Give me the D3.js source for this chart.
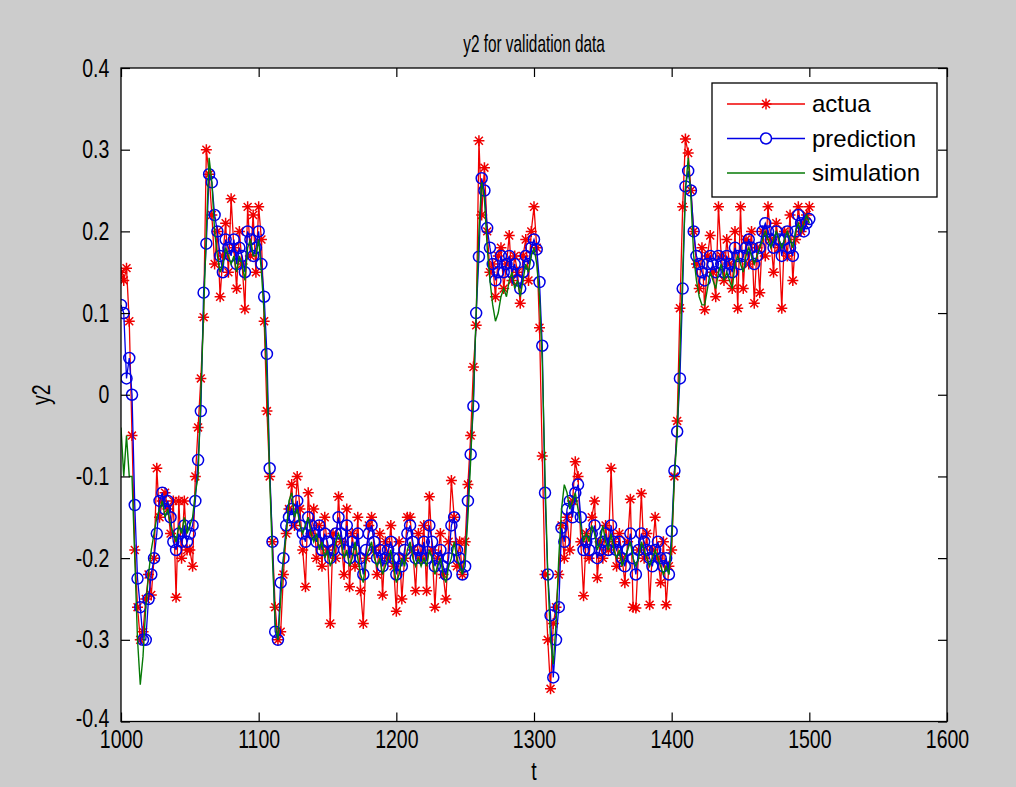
<!DOCTYPE html>
<html>
<head>
<meta charset="utf-8">
<script src="https://cdn.jsdelivr.net/npm/d3@7"></script>
<style>
  html, body { margin: 0; padding: 0; background: #cccccc; }
  svg { display: block; }
</style>
</head>
<body>
<svg id="fig" width="1016" height="787"></svg>
<script>
// sampling grid of the series: t = tStart + i * tStep
const tStart = 1000;
const tStep = 2;

// red, "*" markers
const actual = [
  0.15, 0.14, 0.155, 0.09, -0.05, -0.19, -0.26, -0.3, -0.29, -0.25,
  -0.22, -0.245, -0.2, -0.09, -0.15, -0.13, -0.12, -0.14, -0.17, -0.13,
  -0.248, -0.13, -0.2, -0.13, -0.19, -0.19, -0.21, -0.1, -0.04, 0.02,
  0.095, 0.3, 0.27, 0.22, 0.16, 0.2, 0.12, 0.17, 0.21, 0.15,
  0.24, 0.18, 0.13, 0.2, 0.16, 0.105, 0.23, 0.17, 0.22, 0.15,
  0.23, 0.19, 0.09, -0.02, -0.1, -0.18, -0.26, -0.3, -0.29, -0.22,
  -0.17, -0.14, -0.11, -0.16, -0.1, -0.14, -0.19, -0.235, -0.12, -0.17,
  -0.14, -0.2, -0.16, -0.21, -0.15, -0.19, -0.28, -0.17, -0.2, -0.125,
  -0.18, -0.22, -0.14, -0.235, -0.17, -0.21, -0.15, -0.24, -0.28, -0.2,
  -0.16, -0.15, -0.19, -0.22, -0.17, -0.245, -0.18, -0.2, -0.16, -0.21,
  -0.265, -0.18, -0.25, -0.2, -0.15, -0.15, -0.19, -0.24, -0.17, -0.2,
  -0.16, -0.24, -0.125, -0.19, -0.26, -0.2, -0.17, -0.22, -0.25, -0.18,
  -0.105, -0.15, -0.21, -0.18, -0.22, -0.18, -0.11, -0.05, 0.034, 0.085,
  0.311, 0.22, 0.278, 0.2, 0.15, 0.16, 0.12, 0.17, 0.18, 0.13,
  0.16, 0.195, 0.14, 0.17, 0.15, 0.112, 0.17, 0.19, 0.14, 0.2,
  0.23, 0.18, 0.082, -0.075, -0.22, -0.3, -0.36, -0.28, -0.26, -0.22,
  -0.16, -0.2, -0.15, -0.19, -0.13, -0.082, -0.1, -0.18, -0.246, -0.17,
  -0.2, -0.15, -0.13, -0.224, -0.18, -0.2, -0.16, -0.19, -0.09, -0.18,
  -0.21, -0.17, -0.2, -0.23, -0.18, -0.128, -0.26, -0.261, -0.19, -0.121,
  -0.2, -0.17, -0.257, -0.19, -0.15, -0.2, -0.23, -0.18, -0.257, -0.21,
  -0.19, -0.1, -0.032, 0.106, 0.23, 0.313, 0.296, 0.25, 0.2, 0.16,
  0.13, 0.18, 0.104, 0.17, 0.195, 0.15, 0.12, 0.23, 0.17, 0.14,
  0.19, 0.16, 0.13, 0.2, 0.106, 0.23, 0.13, 0.19, 0.16, 0.2,
  0.112, 0.18, 0.125, 0.2, 0.17, 0.23, 0.19, 0.15, 0.21, 0.18,
  0.106, 0.2, 0.17, 0.22, 0.14, 0.19, 0.23, 0.2, 0.21, 0.22,
  0.23
];

// blue, "o" markers
const prediction = [
  0.11, 0.1, 0.02, 0.045, 0.0, -0.135, -0.225, -0.26, -0.3, -0.3,
  -0.25, -0.22, -0.2, -0.17, -0.13, -0.12, -0.14, -0.13, -0.15, -0.18,
  -0.19, -0.17, -0.18, -0.16, -0.18, -0.17, -0.16, -0.13, -0.08, -0.02,
  0.125, 0.185, 0.27, 0.26, 0.22, 0.2, 0.17, 0.15, 0.19, 0.18,
  0.17, 0.19, 0.16, 0.18, 0.17, 0.15, 0.2, 0.19, 0.17, 0.18,
  0.2, 0.16, 0.12, 0.05, -0.09, -0.18, -0.29, -0.3, -0.23, -0.2,
  -0.16, -0.15, -0.14, -0.15, -0.13, -0.16, -0.17, -0.18, -0.15, -0.16,
  -0.17, -0.18, -0.16, -0.19, -0.17, -0.18, -0.2, -0.19, -0.17, -0.15,
  -0.17, -0.19, -0.16, -0.2, -0.18, -0.19, -0.17, -0.2, -0.22, -0.19,
  -0.17, -0.16, -0.18, -0.2, -0.19, -0.21, -0.2, -0.19, -0.18, -0.2,
  -0.22, -0.2, -0.21, -0.19, -0.17, -0.16, -0.18, -0.2, -0.19, -0.2,
  -0.18, -0.2, -0.16, -0.18, -0.21, -0.2, -0.19, -0.21, -0.22, -0.2,
  -0.16, -0.15, -0.19, -0.2, -0.22, -0.21, -0.13, -0.073, -0.014, 0.1,
  0.169, 0.265, 0.25, 0.204, 0.18, 0.16, 0.14, 0.15, 0.17, 0.15,
  0.16, 0.17, 0.15, 0.16, 0.14, 0.13, 0.15, 0.17, 0.16, 0.18,
  0.19, 0.178, 0.138, 0.06, -0.12, -0.22, -0.27, -0.346, -0.3, -0.26,
  -0.163, -0.18, -0.14, -0.13, -0.15, -0.12, -0.11, -0.15, -0.19, -0.18,
  -0.19, -0.17, -0.16, -0.2, -0.19, -0.18, -0.17, -0.19, -0.16, -0.18,
  -0.19, -0.18, -0.2, -0.21, -0.19, -0.17, -0.2, -0.22, -0.19, -0.17,
  -0.18, -0.19, -0.2, -0.21, -0.19, -0.18, -0.2, -0.21, -0.2, -0.22,
  -0.167, -0.093, -0.045, 0.02, 0.13, 0.255, 0.274, 0.25, 0.2, 0.17,
  0.16, 0.15, 0.14, 0.16, 0.17, 0.16, 0.15, 0.17, 0.16, 0.15,
  0.17, 0.16, 0.15, 0.18, 0.17, 0.16, 0.17, 0.18, 0.19, 0.18,
  0.16, 0.17, 0.18, 0.2, 0.21, 0.2, 0.19, 0.18, 0.2, 0.19,
  0.17, 0.19, 0.2, 0.18, 0.17, 0.2, 0.22, 0.21, 0.2, 0.21,
  0.215
];

// green, line only
const simulation = [
  -0.04, -0.1, -0.05, -0.1, -0.1, -0.2, -0.3, -0.355, -0.32, -0.26,
  -0.22, -0.19, -0.17, -0.15, -0.14, -0.13, -0.15, -0.14, -0.16, -0.17,
  -0.18, -0.16, -0.17, -0.15, -0.17, -0.16, -0.15, -0.12, -0.1, 0.0,
  0.1, 0.2, 0.29, 0.26, 0.2, 0.17, 0.15, 0.16, 0.18, 0.17,
  0.16, 0.17, 0.15, 0.17, 0.16, 0.14, 0.18, 0.19, 0.17, 0.17,
  0.19, 0.15, 0.1, 0.02, -0.1, -0.2, -0.28, -0.3, -0.25, -0.2,
  -0.17, -0.13, -0.12, -0.15, -0.14, -0.16, -0.17, -0.16, -0.15, -0.17,
  -0.18, -0.17, -0.19, -0.18, -0.2, -0.19, -0.21, -0.2, -0.18, -0.17,
  -0.18, -0.2, -0.19, -0.21, -0.2, -0.18, -0.2, -0.22, -0.23, -0.2,
  -0.19, -0.18, -0.2, -0.21, -0.2, -0.22, -0.21, -0.2, -0.19, -0.21,
  -0.23, -0.22, -0.2, -0.21, -0.19, -0.18, -0.2, -0.21, -0.2, -0.21,
  -0.2, -0.21, -0.19, -0.2, -0.22, -0.21, -0.2, -0.22, -0.23, -0.21,
  -0.2, -0.18, -0.2, -0.21, -0.22, -0.2, -0.15, -0.08, 0.0, 0.1,
  0.2, 0.26, 0.24, 0.18, 0.14, 0.11, 0.09, 0.1, 0.12, 0.13,
  0.12, 0.14, 0.15, 0.13, 0.14, 0.12, 0.14, 0.16, 0.15, 0.17,
  0.18, 0.16, 0.12, 0.04, -0.1, -0.22, -0.3, -0.33, -0.28, -0.2,
  -0.14, -0.11, -0.12, -0.14, -0.13, -0.12, -0.14, -0.16, -0.18, -0.17,
  -0.18, -0.16, -0.17, -0.19, -0.18, -0.16, -0.18, -0.19, -0.17, -0.19,
  -0.2, -0.19, -0.21, -0.2, -0.19, -0.18, -0.2, -0.21, -0.2, -0.18,
  -0.19, -0.2, -0.21, -0.2, -0.19, -0.2, -0.21, -0.22, -0.21, -0.22,
  -0.18, -0.1, -0.05, 0.05, 0.15, 0.25, 0.29, 0.24, 0.17, 0.14,
  0.12, 0.11, 0.11, 0.13, 0.15, 0.14, 0.13, 0.15, 0.16, 0.14,
  0.15, 0.14, 0.13, 0.16, 0.17, 0.16, 0.15, 0.17, 0.18, 0.17,
  0.16, 0.17, 0.18, 0.19, 0.2, 0.19, 0.18, 0.19, 0.2, 0.19,
  0.18, 0.19, 0.2, 0.19, 0.18, 0.2, 0.21, 0.2, 0.21, 0.22,
  0.21
];

const xTicks = [1000, 1100, 1200, 1300, 1400, 1500, 1600];
const yTicks = [-0.4, -0.3, -0.2, -0.1, 0, 0.1, 0.2, 0.3, 0.4];
const legendNames = ['actua', 'prediction', 'simulation'];

const RED = '#f00000', BLUE = '#0000e6', GREEN = '#067a06';
const fontFam = '"Liberation Sans", Arial, sans-serif';
const squeeze = 0.78;   // the figure text looks horizontally condensed

const box = {left: 121, right: 947, top: 68, bottom: 721.5};

const svg = d3.select('#fig');

const xScale = d3.scaleLinear().domain([1000, 1600]).range([box.left, box.right]);
const yScale = d3.scaleLinear().domain([-0.4, 0.4]).range([box.bottom, box.top]);

const toPoints = arr => arr.map((v, i) => ({t: tStart + i * tStep, v: v}));

// plot area
svg.append('rect')
    .attr('x', box.left).attr('y', box.top)
    .attr('width', box.right - box.left).attr('height', box.bottom - box.top)
    .attr('fill', 'white');

svg.append('defs').append('clipPath').attr('id', 'clip')
    .append('rect')
    .attr('x', box.left).attr('y', box.top)
    .attr('width', box.right - box.left).attr('height', box.bottom - box.top);

const plot = svg.append('g').attr('clip-path', 'url(#clip)');

const line = d3.line()
    .x(d => xScale(d.t))
    .y(d => yScale(d.v));

// asterisk marker like matlab '*'
function starPath(r) {
    const k = r * 0.72;
    return `M${-r},0H${r}M0,${-r}V${r}M${-k},${-k}L${k},${k}M${-k},${k}L${k},${-k}`;
}

// actual
plot.append('path')
    .datum(toPoints(actual))
    .attr('d', line)
    .attr('fill', 'none')
    .attr('stroke', RED)
    .attr('stroke-width', 1.3);

plot.selectAll('.star')
    .data(toPoints(actual))
    .join('path')
    .attr('class', 'star')
    .attr('transform', d => `translate(${xScale(d.t)},${yScale(d.v)})`)
    .attr('d', starPath(5.5))
    .attr('fill', 'none')
    .attr('stroke', RED)
    .attr('stroke-width', 1.5);

// prediction
plot.append('path')
    .datum(toPoints(prediction))
    .attr('d', line)
    .attr('fill', 'none')
    .attr('stroke', BLUE)
    .attr('stroke-width', 1.3);

plot.selectAll('.circ')
    .data(toPoints(prediction))
    .join('circle')
    .attr('class', 'circ')
    .attr('cx', d => xScale(d.t))
    .attr('cy', d => yScale(d.v))
    .attr('r', 5.5)
    .attr('fill', 'none')
    .attr('stroke', BLUE)
    .attr('stroke-width', 1.5);

// simulation
plot.append('path')
    .datum(toPoints(simulation))
    .attr('d', line)
    .attr('fill', 'none')
    .attr('stroke', GREEN)
    .attr('stroke-width', 1.4);

// axes, ticks inside on all four sides
const tickLen = 9;

svg.append('g')
    .attr('class', 'xaxis')
    .attr('transform', `translate(0,${box.bottom})`)
    .call(d3.axisBottom(xScale).tickValues(xTicks).tickSize(-tickLen).tickSizeOuter(0).tickPadding(9).tickFormat(d3.format('d')));
svg.append('g')
    .attr('transform', `translate(0,${box.top})`)
    .call(d3.axisTop(xScale).tickValues(xTicks).tickSize(-tickLen).tickSizeOuter(0).tickFormat(''));
svg.append('g')
    .attr('class', 'yaxis')
    .attr('transform', `translate(${box.left},0)`)
    .call(d3.axisLeft(yScale).tickValues(yTicks).tickSize(-tickLen).tickSizeOuter(0)
        .tickFormat(d => d === 0 ? '0' : String(d)));
svg.append('g')
    .attr('transform', `translate(${box.right},0)`)
    .call(d3.axisRight(yScale).tickValues(yTicks).tickSize(-tickLen).tickSizeOuter(0).tickFormat(''));

svg.selectAll('.domain').remove();
svg.selectAll('.tick line').attr('stroke', '#000').attr('stroke-width', 1.2);
svg.selectAll('.tick text')
    .attr('fill', '#000')
    .style('font-family', fontFam)
    .style('font-size', '25px');
svg.selectAll('.xaxis .tick text')
    .attr('transform', `scale(${squeeze},1)`);
svg.selectAll('.yaxis .tick text')
    .attr('x', -15)
    .attr('transform', d => d === -0.4 ? `translate(0,-3) scale(${squeeze},1)` : `scale(${squeeze},1)`);

svg.append('rect')
    .attr('x', box.left).attr('y', box.top)
    .attr('width', box.right - box.left).attr('height', box.bottom - box.top)
    .attr('fill', 'none')
    .attr('stroke', '#000')
    .attr('stroke-width', 1.3);

// title and labels
svg.append('text')
    .attr('transform', `translate(${(box.left + box.right) / 2},52) scale(0.64,1)`)
    .attr('text-anchor', 'middle')
    .style('font-family', fontFam)
    .style('font-size', '24px')
    .text('y2 for validation data');

svg.append('text')
    .attr('transform', `translate(${(box.left + box.right) / 2},780) scale(${squeeze},1)`)
    .attr('text-anchor', 'middle')
    .style('font-family', fontFam)
    .style('font-size', '25px')
    .text('t');

svg.append('text')
    .attr('transform', `translate(50,${(box.top + box.bottom) / 2}) rotate(-90) scale(${squeeze},1)`)
    .attr('text-anchor', 'middle')
    .style('font-family', fontFam)
    .style('font-size', '25px')
    .text('y2');

// legend
const legend = svg.append('g');
legend.append('rect')
    .attr('x', 712).attr('y', 83)
    .attr('width', 225).attr('height', 114)
    .attr('fill', 'white')
    .attr('stroke', '#000')
    .attr('stroke-width', 1.3);

const legendColors = [RED, BLUE, GREEN];
const legendY = d3.scalePoint().domain(legendNames).range([104, 173]);

legendNames.forEach((name, i) => {
    const y = legendY(name);
    legend.append('line')
        .attr('x1', 727).attr('x2', 805)
        .attr('y1', y).attr('y2', y)
        .attr('stroke', legendColors[i])
        .attr('stroke-width', 1.3);
    if (i === 0) {
        legend.append('path')
            .attr('transform', `translate(766,${y})`)
            .attr('d', starPath(5.5))
            .attr('fill', 'none')
            .attr('stroke', RED)
            .attr('stroke-width', 1.5);
    } else if (i === 1) {
        legend.append('circle')
            .attr('cx', 766).attr('cy', y).attr('r', 5.5)
            .attr('fill', 'white')
            .attr('stroke', BLUE)
            .attr('stroke-width', 1.5);
    }
    legend.append('text')
        .attr('x', 812).attr('y', y)
        .attr('dy', '0.35em')
        .style('font-family', fontFam)
        .style('font-size', '24px')
        .text(name);
});
</script>
</body>
</html>
